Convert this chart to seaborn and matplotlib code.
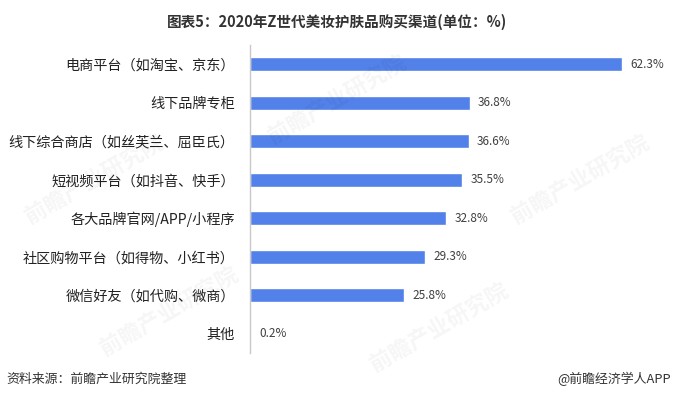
import matplotlib
matplotlib.use("Agg")
import matplotlib.pyplot as plt
import seaborn as sns
import pandas as pd

# data
channels = ['电商平台（如淘宝、京东）', '线下品牌专柜', '线下综合商店（如丝芙兰、屈臣氏）',
            '短视频平台（如抖音、快手）', '各大品牌官网/APP/小程序', '社区购物平台（如得物、小红书）',
            '微信好友（如代购、微商）', '其他']
shares = [62.3, 36.8, 36.6, 35.5, 32.8, 29.3, 25.8, 0.2]

df = pd.DataFrame({'channel': channels, 'share': shares})

sns.set_style("white")
plt.rcParams['font.family'] = ['Noto Sans CJK SC', 'DejaVu Sans']

fig = plt.figure(figsize=(6.75, 3.99), dpi=100)
ax = fig.add_axes([250 / 675, 1 - 353 / 399, 418 / 675, 308 / 399])

sns.barplot(data=df, x='share', y='channel', orient='h', color='#5281E9',
            width=0.36, saturation=1, ax=ax)

ax.set_xlim(0, 70)
ax.set_ylim(7.5, -0.5)
ax.set_xlabel('')
ax.set_ylabel('')
ax.set_xticks([])
ax.tick_params(axis='y', length=0, pad=11, labelsize=10.2, labelcolor='#222222')
for s in ['top', 'right', 'bottom']:
    ax.spines[s].set_visible(False)
ax.spines['left'].set_color('#c8c8c8')
ax.spines['left'].set_linewidth(1)

# value labels
for i, v in enumerate(shares):
    ax.text(v + 1.4, i, '{:.1f}%'.format(v), va='center', ha='left',
            fontsize=8.5, color='#404040')

# faint watermarks
for (wx, wy) in [(0.14, 0.55), (0.50, 0.75), (0.86, 0.55), (0.65, 0.18), (0.25, 0.22)]:
    fig.text(wx, wy, '前瞻产业研究院', fontsize=16, fontweight='bold', color='#000000',
             alpha=0.04, rotation=30, ha='center', va='center')

fig.text(0.5, 1 - 22 / 399, '图表5：2020年Z世代美妆护肤品购买渠道(单位：%)', ha='center', va='center',
         fontsize=10.5, fontweight='bold', color='#333333')
fig.text(6 / 675, 1 - 379 / 399, '资料来源：前瞻产业研究院整理', ha='left', va='center',
         fontsize=9.3, color='#333333')
fig.text(671 / 675, 1 - 379 / 399, '@前瞻经济学人APP', ha='right', va='center',
         fontsize=9.3, color='#333333')

plt.savefig('out.png', dpi=100)
plt.close()
